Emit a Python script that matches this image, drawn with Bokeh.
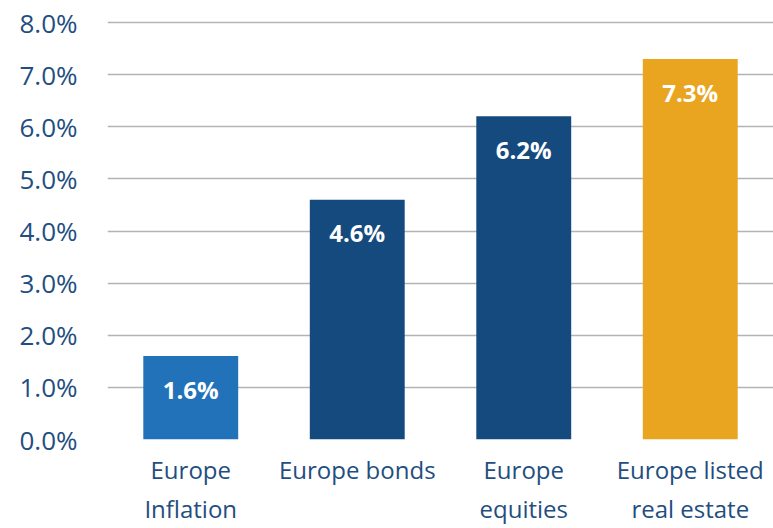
from bokeh.plotting import figure
from bokeh.models import ColumnDataSource, Range1d, FactorRange, FixedTicker, CustomJSTickFormatter
from bokeh.core.properties import value
from bokeh.embed import file_html
from bokeh.resources import INLINE

categories = ["Europe\nInflation", "Europe bonds", "Europe\nequities", "Europe listed\nreal estate"]
returns = [1.6, 4.6, 6.2, 7.3]
labels = ["1.6%", "4.6%", "6.2%", "7.3%"]
colors = ["#2272b9", "#154a7e", "#154a7e", "#e9a520"]
yticks = [0, 1, 2, 3, 4, 5, 6, 7, 8]

FONT = "Open Sans"
TEXT_COLOR = "#1f4e7f"

src = ColumnDataSource(dict(cat=categories, val=returns, lab=labels, color=colors))

p = figure(width=773, height=528, x_range=FactorRange(*categories, range_padding=0.0),
           y_range=Range1d(0, 8.058), output_backend="svg", toolbar_location=None,
           min_border_left=107, min_border_right=0, min_border_top=19, min_border_bottom=89)
p.outline_line_color = None
p.background_fill_color = "white"
p.border_fill_color = "white"

p.vbar(x="cat", top="val", width=0.57, fill_color="color", line_color=None, source=src)

p.text(x="cat", y="val", text="lab", source=src, y_offset=33,
       text_align="center", text_baseline="middle", text_color="white",
       text_font=value(FONT), text_font_size="24px", text_font_style="bold")

p.xgrid.grid_line_color = None
p.ygrid.grid_line_color = "#b4b4b4"
p.ygrid.grid_line_width = 1.6
p.ygrid.ticker = FixedTicker(ticks=yticks)

p.yaxis.ticker = FixedTicker(ticks=yticks)
p.yaxis.formatter = CustomJSTickFormatter(code="return tick.toFixed(1) + '%';")
p.yaxis.axis_line_color = None
p.yaxis.major_tick_line_color = None
p.yaxis.minor_tick_line_color = None
p.yaxis.major_label_standoff = 24
p.yaxis.major_label_text_font = FONT
p.yaxis.major_label_text_font_size = "26px"
p.yaxis.major_label_text_color = TEXT_COLOR

p.xaxis.axis_line_color = None
p.xaxis.major_tick_line_color = None
p.xaxis.minor_tick_line_color = None
p.xaxis.major_label_standoff = 7
p.xaxis.major_label_text_font = FONT
p.xaxis.major_label_text_font_size = "24px"
p.xaxis.major_label_text_color = TEXT_COLOR
p.xaxis.major_label_text_line_height = 1.2

open("out.html", "w").write(file_html(p, INLINE))
